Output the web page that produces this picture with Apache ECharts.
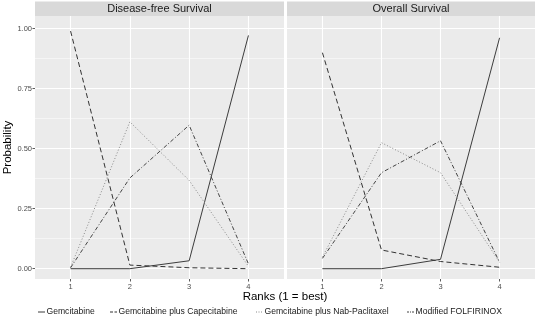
<!DOCTYPE html>
<html>
<head>
<meta charset="utf-8">
<script src="https://cdn.jsdelivr.net/npm/echarts@6/dist/echarts.min.js"></script>
<style>html,body{margin:0;padding:0;background:#fff}#c{width:537px;height:325px}</style>
</head>
<body>
<div id="c"></div>
<script>
// ---- data ----
var ranks = [1, 2, 3, 4];
var yTicks = [0, 0.25, 0.5, 0.75, 1];
var panels = ['Disease-free Survival', 'Overall Survival'];
var treatments = ['Gemcitabine', 'Gemcitabine plus Capecitabine', 'Gemcitabine plus Nab-Paclitaxel', 'Modified FOLFIRINOX'];
// Disease-free survival: probability of each rank
var gemDFS = [0.000, 0.000, 0.033, 0.972];
var capDFS = [0.990, 0.015, 0.004, 0.000];
var nabDFS = [0.006, 0.612, 0.368, 0.010];
var ffxDFS = [0.004, 0.378, 0.598, 0.020];
// Overall survival
var gemOS = [0.000, 0.000, 0.039, 0.962];
var capOS = [0.900, 0.078, 0.030, 0.006];
var nabOS = [0.048, 0.525, 0.400, 0.027];
var ffxOS = [0.043, 0.400, 0.533, 0.027];
var panelData = [[gemDFS, capDFS, nabDFS, ffxDFS], [gemOS, capOS, nabOS, ffxOS]];

// ---- styles ----
var FONT = "'Liberation Sans', Arial, Helvetica, sans-serif";
var lineStyles = [
  {color: '#3d3d3d', width: 1, type: 'solid'},
  {color: '#333333', width: 1, type: [5, 3]},
  {color: '#8a8a8a', width: 1, type: [1, 2]},
  {color: '#444444', width: 1, type: [4, 2, 1, 2]}
];
var P = [
  {L: 35, W: 249},
  {L: 287, W: 248}
];
var PT = 16, PH = 263;          // panel top/height
var DT = 28.7, DH = 240;        // y=1 .. y=0 pixel band
var grids = [], xAxes = [], yAxes = [], series = [], graphics = [];
function hiddenX(gi, min, max) { return {type: 'value', gridIndex: gi, min: min, max: max, show: false}; }
function hiddenY(gi, min, max) { return {type: 'value', gridIndex: gi, min: min, max: max, show: false}; }

P.forEach(function (p, pi) {
  var dl = p.L + p.W * 0.6 / 4.2, dw = p.W * 3 / 4.2;
  var base = grids.length;
  // panel background
  grids.push({left: p.L, top: PT, width: p.W, height: PH, show: true, backgroundColor: '#EBEBEB', borderWidth: 0});
  xAxes.push(hiddenX(base, 0, 1)); yAxes.push(hiddenY(base, 0, 1));
  // horizontal grid lines + y labels
  grids.push({left: p.L, top: DT, width: p.W, height: DH});
  xAxes.push(hiddenX(base + 1, 0, 1));
  yAxes.push({
    type: 'value', gridIndex: base + 1, min: yTicks[0], max: yTicks[yTicks.length - 1], interval: 0.25,
    axisLine: {show: false},
    axisTick: {show: pi === 0, length: 2.5, lineStyle: {color: '#333333', width: 0.8}},
    axisLabel: {show: pi === 0, fontSize: 7.5, color: '#4D4D4D', margin: 3, fontFamily: FONT,
      formatter: function (v) { return v.toFixed(2); }},
    splitLine: {show: true, lineStyle: {color: '#FFFFFF', width: 1.1}},
    minorTick: {show: false, splitNumber: 2},
    minorSplitLine: {show: true, lineStyle: {color: '#FFFFFF', width: 0.5}}
  });
  // vertical grid lines + x labels
  grids.push({left: dl, top: PT, width: dw, height: PH});
  xAxes.push({
    type: 'value', gridIndex: base + 2, min: ranks[0], max: ranks[ranks.length - 1], interval: 1,
    axisLine: {show: false},
    axisTick: {show: true, length: 2.5, lineStyle: {color: '#333333', width: 0.8}},
    axisLabel: {show: true, fontSize: 7.5, color: '#4D4D4D', margin: 3.5, fontFamily: FONT},
    splitLine: {show: true, lineStyle: {color: '#FFFFFF', width: 1.1}}
  });
  yAxes.push(hiddenY(base + 2, 0, 1));
  // data grid
  grids.push({left: dl, top: DT, width: dw, height: DH});
  xAxes.push(hiddenX(base + 3, ranks[0], ranks[ranks.length - 1]));
  yAxes.push(hiddenY(base + 3, 0, 1));
  treatments.forEach(function (t, ti) {
    series.push({
      type: 'line', name: t, xAxisIndex: base + 3, yAxisIndex: base + 3,
      data: ranks.map(function (r, i) { return [r, panelData[pi][ti][i]]; }),
      symbol: 'none', clip: false, lineStyle: lineStyles[ti], itemStyle: {color: lineStyles[ti].color},
      emphasis: {disabled: true}
    });
  });
  // strip
  graphics.push({type: 'rect', shape: {x: p.L, y: 1.5, width: p.W, height: 14.5}, style: {fill: '#D9D9D9'}, silent: true});
  graphics.push({type: 'text', x: p.L + p.W / 2, y: 9, style: {text: panels[pi], font: '11px ' + FONT, fill: '#1A1A1A', align: 'center', verticalAlign: 'middle'}, silent: true});
});
graphics.push({type: 'text', x: 285, y: 297, style: {text: 'Ranks (1 = best)', font: '11.5px ' + FONT, fill: '#000000', align: 'center', verticalAlign: 'middle'}, silent: true});
graphics.push({type: 'text', x: 8, y: 147.5, rotation: Math.PI / 2, style: {text: 'Probability', font: '11.5px ' + FONT, fill: '#000000', align: 'center', verticalAlign: 'middle'}, silent: true});

// legend (keys drawn as short lines with each series' line style)
var legendX = [38, 110, 256, 407];
var LY = 312;
treatments.forEach(function (t, ti) {
  var ls = lineStyles[ti];
  graphics.push({type: 'line', shape: {x1: legendX[ti], y1: LY, x2: legendX[ti] + 7, y2: LY},
    style: {stroke: ls.color, lineWidth: ls.width, lineDash: ls.type === 'solid' ? null : (ti === 1 ? [3, 1.5] : (ti === 2 ? [1, 1.5] : [2, 1, 1, 1]))}, silent: true});
  graphics.push({type: 'text', x: legendX[ti] + 8.5, y: LY, style: {text: t, font: '8.6px ' + FONT, fill: '#1A1A1A', align: 'left', verticalAlign: 'middle'}, silent: true});
});

var chart = echarts.init(document.getElementById('c'), null, {renderer: 'canvas'});
chart.setOption({
  animation: false,
  textStyle: {fontFamily: FONT},
  grid: grids, xAxis: xAxes, yAxis: yAxes, series: series, graphic: graphics
});
</script>
</body>
</html>
